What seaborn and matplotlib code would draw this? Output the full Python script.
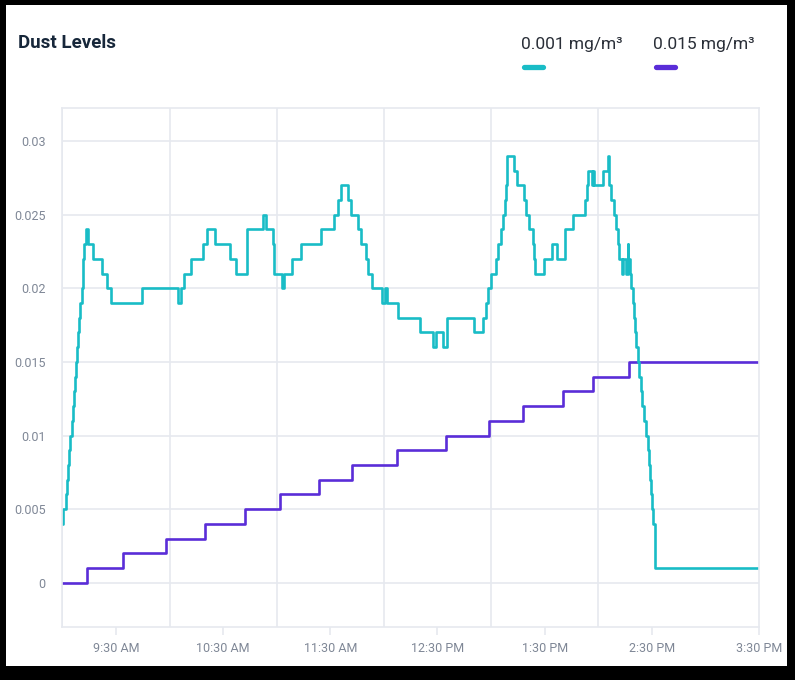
import numpy as np
import pandas as pd
import matplotlib
matplotlib.use("Agg")
import matplotlib.pyplot as plt
import matplotlib.dates as mdates
from matplotlib.ticker import FixedLocator, FuncFormatter
from matplotlib.lines import Line2D
from matplotlib.patches import Rectangle
import seaborn as sns

# ---------------- data (minutes after 9:00 AM, step-post values) ----------------
series_names = ["0.001 mg/m³", "0.015 mg/m³"]

cyan_minutes = [
    0.0, 0.2, 2.0, 2.75, 3.3, 3.86, 4.42, 5.2, 5.77, 6.33,
    6.78, 7.73, 8.0, 8.73, 9.46, 10.13, 10.8, 11.37, 11.81, 12.26,
    13.21, 14.5, 17.3, 22.0, 25.1, 27.0, 44.4, 64.9, 66.3, 68.1,
    71.8, 78.9, 80.8, 85.4, 93.8, 97.0, 103.5, 112.5, 113.8, 117.7,
    118.6, 122.8, 123.8, 128.4, 133.4, 144.6, 152.1, 154.5, 156.0, 160.1,
    161.4, 165.7, 167.0, 170.0, 171.3, 173.2, 178.8, 180.6, 181.9, 188.1,
    200.2, 207.7, 209.0, 212.9, 215.1, 230.5, 235.7, 237.2, 238.5, 239.8,
    242.8, 244.1, 245.4, 246.5, 247.6, 248.4, 248.8, 249.1, 252.9, 254.4,
    258.5, 259.6, 261.1, 263.3, 264.1, 264.6, 269.7, 274.0, 276.8, 281.4,
    285.7, 292.6, 293.6, 294.5, 296.4, 296.9, 297.7, 302.9, 305.3, 305.9,
    306.2, 307.0, 308.9, 310.0, 310.9, 311.7, 313.5, 314.1, 315.4, 316.4,
    316.9, 317.7, 318.4, 319.2, 319.9, 320.5, 321.0, 322.1, 323.0, 323.8,
    324.7, 325.6, 326.6, 327.7, 328.6, 329.0, 329.6, 330.3, 330.9, 331.5,
    390.0,
]
cyan_values = [
    0.004, 0.005, 0.006, 0.007, 0.008, 0.009, 0.010, 0.011, 0.012, 0.013,
    0.014, 0.015, 0.016, 0.017, 0.018, 0.019, 0.020, 0.021, 0.022, 0.023,
    0.024, 0.023, 0.022, 0.021, 0.020, 0.019, 0.020, 0.019, 0.020, 0.021,
    0.022, 0.023, 0.024, 0.023, 0.022, 0.021, 0.024, 0.025, 0.024, 0.023,
    0.021, 0.020, 0.021, 0.022, 0.023, 0.024, 0.025, 0.026, 0.027, 0.026,
    0.025, 0.024, 0.023, 0.022, 0.021, 0.020, 0.019, 0.020, 0.019, 0.018,
    0.017, 0.016, 0.017, 0.016, 0.018, 0.017, 0.018, 0.019, 0.020, 0.021,
    0.022, 0.023, 0.024, 0.025, 0.026, 0.027, 0.028, 0.029, 0.028, 0.027,
    0.026, 0.025, 0.024, 0.023, 0.022, 0.021, 0.022, 0.023, 0.022, 0.024,
    0.025, 0.026, 0.027, 0.028, 0.027, 0.028, 0.027, 0.028, 0.029, 0.028,
    0.027, 0.026, 0.025, 0.024, 0.023, 0.022, 0.021, 0.022, 0.021, 0.023,
    0.022, 0.021, 0.020, 0.019, 0.018, 0.017, 0.016, 0.015, 0.014, 0.013,
    0.012, 0.011, 0.010, 0.009, 0.008, 0.007, 0.006, 0.005, 0.004, 0.001,
    0.001,
]

purple_minutes = [0.0, 13.9, 33.8, 58.0, 79.8, 102.2, 121.8, 143.8, 162.2,
                  187.3, 214.8, 239.0, 258.0, 280.0, 297.3, 317.4, 390.0]
purple_values = [0.000, 0.001, 0.002, 0.003, 0.004, 0.005, 0.006, 0.007, 0.008,
                 0.009, 0.010, 0.011, 0.012, 0.013, 0.014, 0.015, 0.015]

y_ticks = [0, 0.005, 0.01, 0.015, 0.02, 0.025, 0.03]
y_tick_labels = ["0", "0.005", "0.01", "0.015", "0.02", "0.025", "0.03"]

title_text = "Dust Levels"

# ---------------- build frame ----------------
base = pd.Timestamp("2024-01-01 09:00")
df = pd.concat([
    pd.DataFrame({"time": base + pd.to_timedelta(cyan_minutes, unit="m"),
                  "value": cyan_values, "series": series_names[0]}),
    pd.DataFrame({"time": base + pd.to_timedelta(purple_minutes, unit="m"),
                  "value": purple_values, "series": series_names[1]}),
], ignore_index=True)

CYAN = "#19BCC6"
PURPLE = "#5A2DD8"
GRID = "#E6E9EF"
TICKC = "#7F8796"

sns.set_theme(style="white")
plt.rcParams["font.family"] = ["Roboto", "DejaVu Sans"]

W, H = 795, 680
fig = plt.figure(figsize=(W / 100, H / 100), dpi=100, facecolor="black")
fig.add_artist(Rectangle((6 / W, 1 - 666 / H), (787 - 6) / W, (666 - 5) / H,
                         transform=fig.transFigure, facecolor="white",
                         edgecolor="none", zorder=0))

ax = fig.add_axes([62.4 / W, 1 - 627 / H, (759 - 62.4) / W, (627 - 108) / H])
ax.set_facecolor("white")

sns.lineplot(data=df, x="time", y="value", hue="series",
             hue_order=[series_names[1], series_names[0]],
             palette={series_names[0]: CYAN, series_names[1]: PURPLE},
             drawstyle="steps-post", linewidth=1.9, estimator=None,
             legend=False, ax=ax)

ax.set_xlim(base, base + pd.Timedelta(minutes=390))
ax.set_ylim(-0.00301, 0.03225)

# y axis
ax.yaxis.set_major_locator(FixedLocator(y_ticks))
ax.set_yticklabels(y_tick_labels)
ax.grid(axis="y", which="major", color=GRID, linewidth=1.2)
ax.tick_params(axis="y", which="major", length=10, width=1.2, color=GRID,
               labelsize=9, labelcolor=TICKC, pad=2)

# x axis: labels at half hours, gridlines at hours
ax.xaxis.set_major_locator(mdates.MinuteLocator(byminute=[30]))
ax.xaxis.set_major_formatter(FuncFormatter(
    lambda v, p: mdates.num2date(v).strftime("%I:%M %p").lstrip("0")))
ax.xaxis.set_minor_locator(mdates.HourLocator(byhour=range(9, 15)))
ax.grid(axis="x", which="minor", color=GRID, linewidth=1.2)
ax.grid(axis="x", which="major", visible=False)
ax.tick_params(axis="x", which="major", length=6, width=1.2, color=GRID,
               labelsize=9, labelcolor=TICKC, pad=5, bottom=True)
ax.tick_params(axis="x", which="minor", length=0)
ax.set_xlabel("")
ax.set_ylabel("")

for s in ax.spines.values():
    s.set_color(GRID)
    s.set_linewidth(1.2)
    s.set_visible(True)

# title & legend
fig.text(18 / W, 1 - 43 / H, title_text, fontsize=13.5, fontweight="bold",
         color="#17273A", ha="left", va="center")
for name, col, x0 in [(series_names[0], CYAN, 521), (series_names[1], PURPLE, 653)]:
    fig.text(x0 / W, 1 - 44 / H, name, fontsize=12.5, color="#2A2F38",
             ha="left", va="center")
    fig.add_artist(Line2D([(x0 + 2.5) / W, (x0 + 21.5) / W], [1 - 67 / H] * 2,
                          transform=fig.transFigure, color=col, linewidth=3.8,
                          solid_capstyle="round"))

fig.savefig("out.png", dpi=100, facecolor="black")
